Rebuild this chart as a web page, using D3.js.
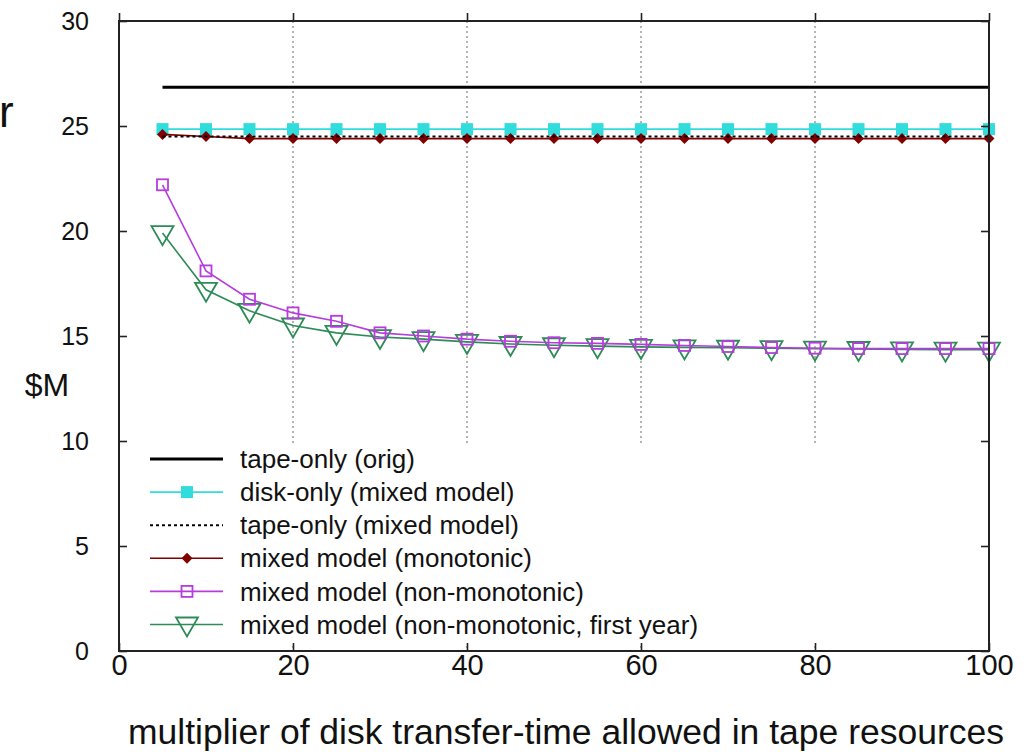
<!DOCTYPE html>
<html><head><meta charset="utf-8">
<script src="https://cdn.jsdelivr.net/npm/d3@7/dist/d3.min.js"></script>
<style>
body{margin:0;background:#fff}
svg text{font-family:"Liberation Sans",Arial,sans-serif;fill:#111}
</style>
</head><body>
<svg id="chart" width="1036" height="752"></svg>
<script>
const multipliers = [5,10,15,20,25,30,35,40,45,50,55,60,65,70,75,80,85,90,95,100];
const tapeOnlyOrig = [26.85,26.85,26.85,26.85,26.85,26.85,26.85,26.85,26.85,26.85,26.85,26.85,26.85,26.85,26.85,26.85,26.85,26.85,26.85,26.85];
const diskOnlyMixed = [24.85,24.85,24.85,24.85,24.85,24.85,24.85,24.85,24.85,24.85,24.85,24.85,24.85,24.85,24.85,24.85,24.85,24.85,24.85,24.85];
const tapeOnlyMixed = [24.5,24.5,24.5,24.5,24.5,24.5,24.5,24.5,24.5,24.5,24.5,24.5,24.5,24.5,24.5,24.5,24.5,24.5,24.5,24.5];
const mixedMonotonic = [24.6,24.5,24.4,24.4,24.4,24.4,24.4,24.4,24.4,24.4,24.4,24.4,24.4,24.4,24.4,24.4,24.4,24.4,24.4,24.4];
const mixedNonMono = [22.2,18.1,16.75,16.1,15.7,15.15,15.0,14.85,14.75,14.68,14.65,14.6,14.55,14.5,14.45,14.42,14.4,14.4,14.4,14.4];
const mixedNonMonoFirstYear = [19.9,17.2,16.2,15.5,15.15,14.95,14.85,14.72,14.62,14.56,14.52,14.48,14.46,14.44,14.42,14.4,14.38,14.36,14.35,14.35];
const xTicks = [0,20,40,60,80,100];
const yTicks = [0,5,10,15,20,25,30];
const gridX = [20,40,60,80];
const seriesNames = ["tape-only (orig)","disk-only (mixed model)","tape-only (mixed model)","mixed model (monotonic)","mixed model (non-monotonic)","mixed model (non-monotonic, first year)"];

const svg = d3.select("#chart");
const x = d3.scaleLinear().domain([0,100]).range([119,989]);
const y = d3.scaleLinear().domain([0,30]).range([651,21]);

// grid
svg.append("g").selectAll("line").data(gridX).join("line")
  .attr("x1",d=>x(d)).attr("x2",d=>x(d)).attr("y1",y(30)).attr("y2",y(0))
  .attr("stroke","#9a9a9a").attr("stroke-width",1.5).attr("stroke-dasharray","2,3");

// legend background (opaque)
svg.append("rect").attr("x",128).attr("y",443).attr("width",855).attr("height",200).attr("fill","#fff");

const series = [
  {name:seriesNames[0], vals:tapeOnlyOrig, color:"#000", width:3, dash:null, marker:null},
  {name:seriesNames[1], vals:diskOnlyMixed, color:"#30dcdc", width:1.8, dash:null, marker:"sq"},
  {name:seriesNames[2], vals:tapeOnlyMixed, color:"#000", width:2, dash:"3,3", marker:null},
  {name:seriesNames[3], vals:mixedMonotonic, color:"#800000", width:1.6, dash:null, marker:"dia"},
  {name:seriesNames[4], vals:mixedNonMono, color:"#b63ddc", width:1.6, dash:null, marker:"osq"},
  {name:seriesNames[5], vals:mixedNonMonoFirstYear, color:"#2e8b57", width:1.6, dash:null, marker:"tri"}
];

function drawMarker(g, type, color){
  if(type==="sq"){
    g.append("rect").attr("x",-6).attr("y",-6).attr("width",12).attr("height",12).attr("fill",color);
  } else if(type==="dia"){
    g.append("path").attr("d","M0,-5.5L5.5,0L0,5.5L-5.5,0Z").attr("fill",color);
  } else if(type==="osq"){
    g.append("rect").attr("x",-5.5).attr("y",-5.5).attr("width",11).attr("height",11).attr("fill","none").attr("stroke",color).attr("stroke-width",1.8);
  } else if(type==="tri"){
    g.append("path").attr("d","M-11,-7L11,-7L0,12Z").attr("fill","none").attr("stroke",color).attr("stroke-width",1.8);
  }
}

const line = d3.line().x(d=>x(d[0])).y(d=>y(d[1]));
const drawOrder = [0,1,3,2,5,4];
drawOrder.forEach(i=>{
  const s = series[i];
  const pts = multipliers.map((m,j)=>[m,s.vals[j]]);
  svg.append("path").datum(pts).attr("d",line).attr("fill","none")
    .attr("stroke",s.color).attr("stroke-width",s.width)
    .attr("stroke-dasharray",s.dash);
  if(s.marker){
    const mg = svg.append("g");
    pts.forEach(p=>{
      const g = mg.append("g").attr("transform",`translate(${x(p[0])},${y(p[1])})`);
      drawMarker(g,s.marker,s.color);
    });
  }
});

// axes
const axisColor = "#222";
function styleAxis(g){
  g.select(".domain").remove();
  g.selectAll("line").attr("stroke",axisColor).attr("stroke-width",1.6);
  g.selectAll("text").attr("fill","#222").attr("font-family","Liberation Sans, Arial, sans-serif");
}
const gl = svg.append("g").attr("transform",`translate(${x(0)},0)`)
  .call(d3.axisLeft(y).tickValues(yTicks).tickSize(-8).tickPadding(30).tickFormat(d3.format("d")));
styleAxis(gl); gl.selectAll("text").attr("font-size",25);
const gr = svg.append("g").attr("transform",`translate(${x(100)},0)`)
  .call(d3.axisRight(y).tickValues(yTicks).tickSize(-8).tickFormat(""));
styleAxis(gr);
const gb = svg.append("g").attr("transform",`translate(0,${y(0)})`)
  .call(d3.axisBottom(x).tickValues(xTicks).tickSize(-8).tickPadding(3).tickFormat(d3.format("d")));
styleAxis(gb); gb.selectAll("text").attr("font-size",29);
const gt = svg.append("g").attr("transform",`translate(0,${y(30)})`)
  .call(d3.axisTop(x).tickValues(xTicks).tickSize(8).tickFormat(""));
styleAxis(gt);
// frame
svg.append("rect").attr("x",x(0)).attr("y",y(30)).attr("width",x(100)-x(0)).attr("height",y(0)-y(30))
  .attr("fill","none").attr("stroke",axisColor).attr("stroke-width",2);

// legend
const lg = svg.append("g");
series.forEach((s,i)=>{
  const cy = 459 + i*33.1;
  const row = lg.append("g").attr("transform",`translate(0,${cy})`);
  row.append("line").attr("x1",150).attr("x2",223).attr("y1",0).attr("y2",0)
    .attr("stroke",s.color).attr("stroke-width",s.width).attr("stroke-dasharray",s.dash);
  if(s.marker){
    const g = row.append("g").attr("transform","translate(187,0)");
    drawMarker(g,s.marker,s.color);
  }
  row.append("text").attr("x",240).attr("y",0).attr("dy","0.35em").attr("font-size",26).text(s.name);
});

// titles
svg.append("text").attr("x",47).attr("y",385).attr("dy","0.35em").attr("text-anchor","middle").attr("font-size",32).text("$M");
svg.append("text").attr("x",566).attr("y",744).attr("text-anchor","middle").attr("font-size",35.5).text("multiplier of disk transfer-time allowed in tape resources");
svg.append("text").attr("x",-1).attr("y",127).attr("font-size",44).text("r");
</script>
</body></html>
